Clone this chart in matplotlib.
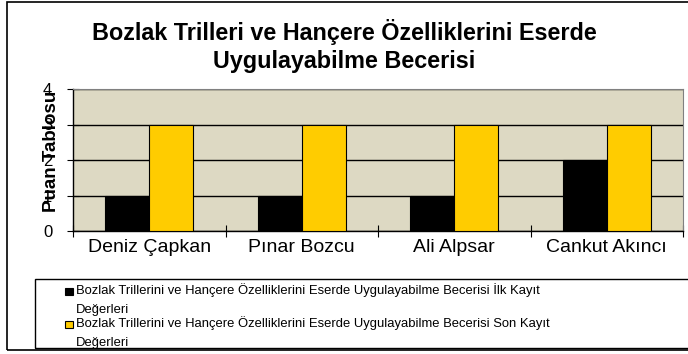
import matplotlib
matplotlib.use("Agg")
import matplotlib.pyplot as plt
from matplotlib.patches import Rectangle
import numpy as np

plt.rcParams['font.family'] = ['Liberation Sans', 'DejaVu Sans']

categories = ["Deniz Çapkan", "Pınar Bozcu", "Ali Alpsar", "Cankut Akıncı"]
ilk_kayit = [1, 1, 1, 2]
son_kayit = [3, 3, 3, 3]
yticks = [0, 1, 2, 3, 4]
series_names = [
    "Bozlak Trillerini ve Hançere Özelliklerini Eserde Uygulayabilme Becerisi İlk Kayıt\nDeğerleri",
    "Bozlak Trillerini ve Hançere Özelliklerini Eserde Uygulayabilme Becerisi Son Kayıt\nDeğerleri",
]
title = "Bozlak Trilleri ve Hançere Özelliklerini Eserde\nUygulayabilme Becerisi"
ylabel = "Puan Tablosu"

W, H = 688, 354
fig = plt.figure(figsize=(W / 100, H / 100), dpi=100)

# outer chart frame
fig.patches.append(Rectangle((7 / W, 1 - 350 / H), (W + 10) / W, 348 / H,
                             transform=fig.transFigure, fill=False,
                             edgecolor="black", linewidth=1.2))

ax = fig.add_axes([73 / W, 1 - 231 / H, 610 / W, 142 / H])
ax.set_facecolor("#DDD9C3")

x = np.arange(len(categories))
w = 0.29
ax.bar(x - 0.145, ilk_kayit, w, color="black", edgecolor="black", linewidth=0.8, zorder=3)
ax.bar(x + 0.145, son_kayit, w, color="#FFCC00", edgecolor="black", linewidth=0.8, zorder=3)

ax.set_xlim(-0.5, len(categories) - 0.5)
ax.set_ylim(0, 4)
ax.set_yticks(yticks)
ax.set_yticklabels([str(v) for v in yticks], fontsize=12)
ax.yaxis.grid(True, color="black", linewidth=1.0, zorder=1)
ax.set_axisbelow(True)

ax.set_xticks(np.arange(len(categories) + 1) - 0.5, minor=False)
ax.set_xticklabels([""] * (len(categories) + 1))
ax.set_xticks(x, minor=True)
ax.set_xticklabels(categories, minor=True, fontsize=14)
ax.tick_params(axis="x", which="minor", length=0, pad=6)
ax.tick_params(axis="x", which="major", length=8, direction="inout", color="black")
ax.tick_params(axis="y", length=8, direction="inout", color="black", pad=11)

for s in ["top", "right"]:
    ax.spines[s].set_color("#808080")
for s in ["left", "bottom"]:
    ax.spines[s].set_color("black")
    ax.spines[s].set_linewidth(1.0)

# the axis title sits over the tick numbers
ax.set_ylabel(ylabel, fontsize=13.5, fontweight="bold")
ax.yaxis.set_label_coords(-0.021, 0.56)

fig.text(0.5, 1 - 46 / H, title, ha="center", va="center", fontsize=16.8,
         fontweight="bold", linespacing=1.25)

# legend box
fig.patches.append(Rectangle((35 / W, 1 - 348 / H), (W - 30) / W, 69 / H,
                             transform=fig.transFigure, fill=False,
                             edgecolor="black", linewidth=1.0))
colors = ["black", "#FFCC00"]
rows = [290.5, 323.5]
for name, c, yy in zip(series_names, colors, rows):
    fig.patches.append(Rectangle((65 / W, 1 - (yy + 4) / H), 8 / W, 7 / H,
                                 transform=fig.transFigure, facecolor=c,
                                 edgecolor="black", linewidth=0.8))
    fig.text(76 / W, 1 - (yy - 7) / H, name, ha="left", va="top", fontsize=9.4,
             linespacing=1.75)

fig.savefig("out.png", dpi=100)
